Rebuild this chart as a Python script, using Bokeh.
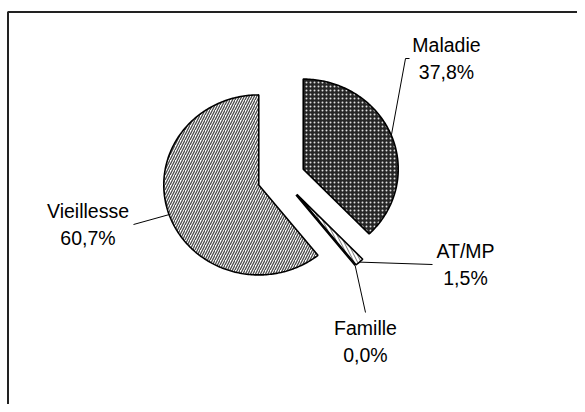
import numpy as np
from bokeh.plotting import figure
from bokeh.models import Range1d, ColumnDataSource
from bokeh.core.properties import value
from bokeh.embed import file_html
from bokeh.resources import INLINE

# ---- data ----
categories = ["Maladie", "AT/MP", "Famille", "Vieillesse"]
shares = [37.8, 1.5, 0.0, 60.7]

# ---- styles / layout ----
fills = ["#262626", "#ffffff", "#ffffff", "#ffffff"]
hatches = ["dot", "left_diagonal_line", " ", "right_diagonal_line"]
hatch_colors = ["#e0e0e0", "#777777", "#ffffff", "#4a4a4a"]
hatch_scales = [4.0, 7.0, 4.0, 5.0]
hatch_weights = [1.0, 1.0, 1.0, 1.3]
label_pos = [(446, 58), (465, 264), (365, 341), (87.5, 224)]
leader_end = [[(405, 58), (409, 58)], [(432, 264)], [(365, 312)], [(133, 224)]]

OX, OY = 280.7, 177.0
RX, RY = 95.0, 90.0
EXPLODE = 0.25

W, H = 577, 404
p = figure(width=W, height=H, output_backend="svg", toolbar_location=None,
           x_range=Range1d(0, W), y_range=Range1d(H, 0),
           min_border_left=0, min_border_right=0, min_border_top=0, min_border_bottom=0)
p.axis.visible = False
p.grid.visible = False
p.outline_line_color = None
p.background_fill_color = "white"
p.border_fill_color = "white"

# outer frame (only top and left edges fall inside the window)
p.line([7.5, 7.5, 900], [900, 11.5, 11.5], line_color="#222222", line_width=2)

tot = sum(shares)
cum = np.concatenate([[0.0], np.cumsum(shares)]) / tot * 2 * np.pi
xs, ys, mids, centers = [], [], [], []
for i in range(len(shares)):
    s, e = cum[i], cum[i + 1]
    m = 0.5 * (s + e)
    cx = OX + EXPLODE * RX * np.sin(m)
    cy = OY - EXPLODE * RY * np.cos(m)
    n = max(2, int(np.degrees(e - s)) + 2)
    t = np.linspace(s, e, n)
    px = np.concatenate([[cx], cx + RX * np.sin(t)])
    py = np.concatenate([[cy], cy - RY * np.cos(t)])
    xs.append(list(px))
    ys.append(list(py))
    mids.append(m)
    centers.append((cx, cy))

src = ColumnDataSource(dict(xs=xs, ys=ys, fill=fills, hatch=hatches,
                            hcol=hatch_colors, hscale=hatch_scales, hw=hatch_weights))
p.patches("xs", "ys", source=src, fill_color="fill", hatch_pattern="hatch",
          hatch_color="hcol", hatch_scale="hscale", hatch_weight="hw",
          line_color="black", line_width=1.6)

# leader lines
for i in range(len(shares)):
    cx, cy = centers[i]
    ax = cx + RX * np.sin(mids[i])
    ay = cy - RY * np.cos(mids[i])
    lx = [ax] + [pt[0] for pt in leader_end[i]]
    ly = [ay] + [pt[1] for pt in leader_end[i]]
    p.line(lx, ly, line_color="black", line_width=1)

# labels
texts = [f"{c}\n{str(v).replace('.', ',')}%" for c, v in zip(categories, shares)]
p.text(x=[q[0] for q in label_pos], y=[q[1] for q in label_pos], text=texts,
       text_align="center", text_baseline="middle",
       text_font=value("Liberation Sans"), text_font_size="19.5px",
       text_color="black", text_line_height=1.2)

open("out.html", "w").write(file_html(p, INLINE))
